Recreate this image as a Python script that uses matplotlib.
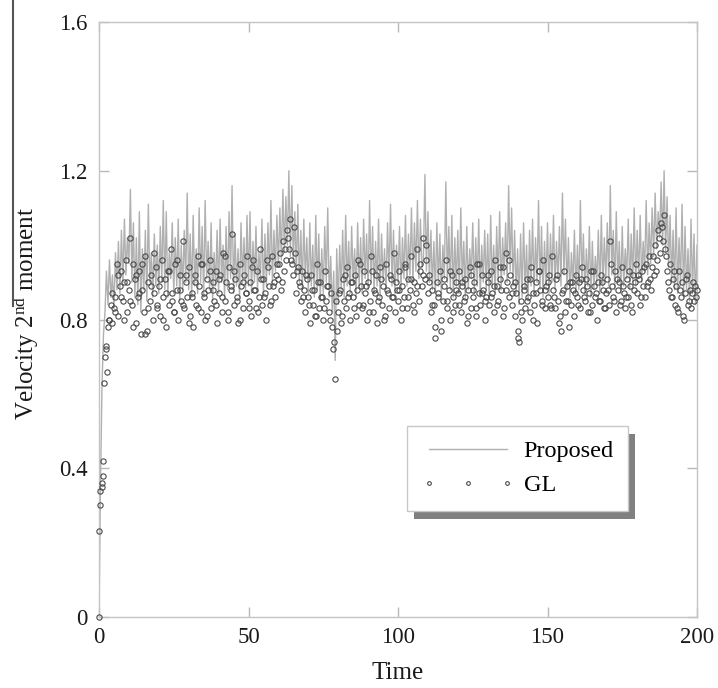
import numpy as np
import matplotlib
matplotlib.use("Agg")
import matplotlib.pyplot as plt
from matplotlib.patches import Rectangle
from matplotlib.lines import Line2D
from matplotlib.transforms import IdentityTransform

plt.rcParams['font.family'] = ['Liberation Serif', 'DejaVu Serif']
plt.rcParams['mathtext.fontset'] = 'custom'
plt.rcParams['mathtext.rm'] = 'Liberation Serif'
plt.rcParams['mathtext.it'] = 'Liberation Serif:italic'

# ---------------- data ----------------
# "Proposed" curve, sampled every 0.5 time units from 0 to 200
proposed = [
    0.00, 0.36, 0.62, 0.76, 0.82, 0.93, 0.84, 0.96, 0.86, 0.92, 0.83, 0.98, 0.88, 1.01, 0.87, 1.04, 0.90, 1.07, 0.92, 1.02,
    0.95, 1.15, 0.90, 1.06, 0.86, 1.02, 0.84, 1.09, 0.82, 0.99, 0.88, 1.04, 0.85, 1.11, 0.90, 0.98, 0.86, 1.03, 0.89, 1.00,
    0.87, 1.05, 0.90, 1.12, 0.88, 1.09, 0.86, 0.98, 0.91, 1.06, 0.87, 1.02, 0.89, 1.07, 0.85, 1.00, 0.88, 1.04, 0.90, 1.14,
    0.88, 1.03, 0.86, 1.08, 0.89, 0.99, 0.87, 1.10, 0.90, 1.05, 0.86, 1.12, 0.91, 1.01, 0.88, 1.06, 0.85, 0.98, 0.89, 1.04,
    0.87, 1.07, 0.90, 1.00, 0.86, 1.05, 0.88, 1.09, 0.91, 1.16, 0.87, 1.03, 0.89, 0.99, 0.86, 1.06, 0.90, 1.02, 0.88, 1.08,
    0.89, 1.09, 0.87, 1.01, 0.90, 1.05, 0.88, 0.98, 0.91, 1.07, 0.86, 1.03, 0.89, 1.06, 0.92, 1.12, 0.90, 1.04, 0.93, 1.08,
    0.94, 1.10, 0.96, 1.15, 0.98, 1.13, 1.00, 1.20, 0.97, 1.16, 0.95, 1.09, 0.92, 1.11, 0.90, 1.04, 0.88, 1.07, 0.91, 1.02,
    0.87, 1.06, 0.89, 1.00, 0.86, 1.08, 0.88, 1.03, 0.85, 0.99, 0.87, 1.05, 0.90, 1.10, 0.86, 0.97, 0.82, 0.93, 0.69, 0.99,
    0.84, 1.00, 0.88, 1.04, 0.86, 1.08, 0.89, 1.01, 0.87, 1.05, 0.90, 0.99, 0.86, 1.06, 0.89, 1.02, 0.87, 1.07, 0.91, 1.03,
    0.88, 1.12, 0.90, 1.05, 0.87, 1.01, 0.89, 1.07, 0.86, 1.03, 0.90, 0.99, 0.88, 1.06, 0.91, 1.11, 0.89, 1.04, 0.87, 1.00,
    0.90, 1.05, 0.88, 1.02, 0.91, 1.08, 0.89, 1.03, 0.92, 1.10, 0.90, 1.06, 0.93, 1.12, 0.91, 1.07, 0.94, 0.96, 1.19, 0.93,
    1.09, 0.90, 1.04, 0.88, 1.01, 0.87, 1.06, 0.89, 1.03, 0.86, 1.00, 0.91, 1.17, 0.90, 1.05, 0.88, 1.08, 0.86, 1.02, 0.89,
    1.04, 0.87, 1.10, 0.90, 1.01, 0.86, 1.05, 0.88, 0.99, 0.91, 1.06, 0.87, 1.02, 0.89, 1.07, 0.86, 1.00, 0.90, 1.04, 0.88,
    1.03, 0.86, 1.08, 0.89, 1.00, 0.87, 1.05, 0.90, 1.09, 0.88, 1.02, 0.92, 1.06, 0.90, 1.16, 0.93, 1.10, 0.89, 1.04, 0.87,
    0.99, 0.84, 1.03, 0.86, 1.06, 0.88, 1.00, 0.85, 1.04, 0.89, 1.07, 0.87, 1.02, 0.90, 1.12, 0.88, 1.05, 0.86, 1.01, 0.89,
    1.06, 0.87, 1.03, 0.90, 1.08, 0.88, 1.01, 0.91, 1.05, 0.89, 1.14, 0.92, 1.07, 0.88, 1.02, 0.86, 0.98, 0.89, 1.04, 0.87,
    1.00, 0.88, 1.12, 0.90, 1.03, 0.87, 0.99, 0.89, 1.05, 0.86, 1.01, 0.88, 0.97, 0.90, 1.04, 0.87, 1.08, 0.89, 1.02, 0.91,
    1.06, 0.89, 1.16, 0.92, 1.04, 0.88, 1.09, 0.90, 1.01, 0.87, 1.05, 0.89, 0.99, 0.91, 1.07, 0.88, 1.03, 0.90, 1.10, 0.89,
    1.04, 0.91, 1.08, 0.90, 1.01, 0.93, 1.12, 0.92, 1.06, 0.95, 1.10, 0.97, 1.14, 0.99, 1.09, 1.02, 1.17, 1.00, 1.20, 0.98,
    1.13, 0.94, 1.08, 0.90, 1.04, 0.88, 1.10, 0.87, 1.02, 0.89, 1.11, 0.86, 1.05, 0.88, 0.99, 0.85, 1.07, 0.87, 1.03, 0.84,
    1.00,
]

# "GL" markers, sampled every 0.5 time units from 0 to 200
gl = [
    0.00, 0.34, 0.36, 0.42, 0.70, 0.73, 0.78, 0.80, 0.84, 0.79, 0.83, 0.86, 0.95, 0.81, 0.89, 0.93, 0.85, 0.90, 0.96, 0.82,
    0.88, 1.02, 0.84, 0.95, 0.91, 0.79, 0.86, 0.93, 0.76, 0.88, 0.82, 0.97, 0.77, 0.90, 0.85, 0.92, 0.80, 0.87, 0.94, 0.83,
    0.89, 0.81, 0.96, 0.86, 0.91, 0.78, 0.93, 0.84, 0.99, 0.87, 0.82, 0.95, 0.88, 0.80, 0.92, 0.85, 1.01, 0.83, 0.90, 0.86,
    0.94, 0.81, 0.87, 0.78, 0.92, 0.84, 0.97, 0.89, 0.82, 0.95, 0.86, 0.80, 0.91, 0.88, 0.96, 0.83, 0.90, 0.85, 0.93, 0.79,
    0.87, 0.92, 0.82, 0.98, 0.85, 0.90, 0.80, 0.94, 0.88, 1.03, 0.84, 0.91, 0.86, 0.79, 0.95, 0.89, 0.83, 0.92, 0.87, 0.97,
    0.85, 0.90, 0.81, 0.96, 0.88, 0.83, 0.93, 0.86, 0.99, 0.84, 0.91, 0.87, 0.80, 0.94, 0.89, 0.85, 0.97, 0.90, 0.86, 0.95,
    0.91, 0.98, 0.88, 1.01, 0.93, 0.96, 1.04, 0.99, 1.07, 0.95, 0.92, 0.98, 0.87, 0.94, 0.90, 0.85, 0.93, 0.88, 0.82, 0.91,
    0.86, 0.79, 0.92, 0.84, 0.88, 0.81, 0.95, 0.83, 0.90, 0.86, 0.80, 0.93, 0.85, 0.89, 0.82, 0.87, 0.78, 0.74, 0.64, 0.77,
    0.82, 0.88, 0.79, 0.91, 0.85, 0.83, 0.94, 0.87, 0.80, 0.90, 0.86, 0.92, 0.81, 0.96, 0.84, 0.89, 0.83, 0.93, 0.87, 0.80,
    0.90, 0.85, 0.97, 0.82, 0.88, 0.92, 0.79, 0.86, 0.94, 0.84, 0.89, 0.81, 0.95, 0.87, 0.83, 0.91, 0.86, 0.98, 0.82, 0.88,
    0.85, 0.93, 0.80, 0.89, 0.86, 0.95, 0.83, 0.91, 0.88, 0.97, 0.84, 0.90, 0.87, 0.99, 0.85, 0.93, 0.89, 1.02, 0.91, 0.96,
    0.87, 0.92, 0.82, 0.88, 0.84, 0.75, 0.90, 0.86, 0.93, 0.77, 0.85, 0.89, 0.96, 0.83, 0.88, 0.80, 0.92, 0.86, 0.84, 0.90,
    0.87, 0.93, 0.82, 0.89, 0.85, 0.91, 0.79, 0.88, 0.94, 0.83, 0.86, 0.90, 0.81, 0.95, 0.87, 0.84, 0.92, 0.88, 0.80, 0.86,
    0.90, 0.84, 0.93, 0.87, 0.82, 0.96, 0.89, 0.85, 0.91, 0.88, 0.94, 0.83, 0.98, 0.90, 0.86, 0.92, 0.84, 0.89, 0.81, 0.87,
    0.75, 0.74, 0.85, 0.80, 0.88, 0.83, 0.91, 0.86, 0.82, 0.94, 0.87, 0.84, 0.90, 0.79, 0.93, 0.88, 0.85, 0.96, 0.83, 0.89,
    0.86, 0.92, 0.84, 0.97, 0.88, 0.83, 0.91, 0.85, 0.79, 0.77, 0.87, 0.93, 0.82, 0.89, 0.85, 0.90, 0.84, 0.88, 0.81, 0.92,
    0.86, 0.90, 0.83, 0.94, 0.88, 0.85, 0.91, 0.82, 0.87, 0.93, 0.84, 0.89, 0.86, 0.80, 0.90, 0.85, 0.92, 0.88, 0.83, 0.87,
    0.91, 0.84, 1.01, 0.89, 0.86, 0.93, 0.82, 0.88, 0.90, 0.85, 0.94, 0.87, 0.83, 0.91, 0.86, 0.89, 0.84, 0.92, 0.88, 0.95,
    0.87, 0.91, 0.84, 0.93, 0.89, 0.86, 0.95, 0.90, 0.97, 0.88, 0.94, 0.92, 1.00, 0.96, 1.04, 0.98, 1.06, 1.01, 1.08, 0.97,
    0.93, 0.88, 0.95, 0.86, 0.91, 0.84, 0.89, 0.82, 0.93, 0.86, 0.90, 0.80, 0.87, 0.92, 0.84, 0.88, 0.83, 0.90, 0.85, 0.86,
    0.88,
]
# additional GL points at t = 0.25, 1.25, ..., 199.25
gl_mid = [
    0.30, 0.38, 0.72, 0.80, 0.87, 0.82, 0.92, 0.86, 0.80, 0.90,
    0.85, 0.78, 0.92, 0.87, 0.95, 0.76, 0.83, 0.89, 0.98, 0.84,
    0.91, 0.80, 0.87, 0.93, 0.85, 0.82, 0.96, 0.88, 0.84, 0.92,
    0.79, 0.86, 0.90, 0.83, 0.95, 0.87, 0.81, 0.93, 0.88, 0.84,
    0.91, 0.86, 0.97, 0.82, 0.89, 0.93, 0.85, 0.80, 0.90, 0.87,
    0.83, 0.94, 0.88, 0.82, 0.91, 0.86, 0.96, 0.84, 0.89, 0.92,
    0.95, 0.90, 0.99, 1.02, 0.96, 1.05, 0.93, 0.89, 0.86, 0.92,
    0.84, 0.88, 0.81, 0.90, 0.86, 0.83, 0.89, 0.80, 0.72, 0.85,
    0.87, 0.81, 0.92, 0.86, 0.90, 0.83, 0.88, 0.95, 0.84, 0.89,
    0.82, 0.93, 0.87, 0.85, 0.91, 0.80, 0.88, 0.92, 0.86, 0.90,
    0.88, 0.83, 0.94, 0.86, 0.91, 0.82, 0.89, 0.95, 0.92, 1.00,
    0.90, 0.84, 0.78, 0.87, 0.80, 0.91, 0.85, 0.93, 0.82, 0.88,
    0.84, 0.90, 0.86, 0.81, 0.92, 0.88, 0.83, 0.95, 0.87, 0.85,
    0.92, 0.86, 0.89, 0.84, 0.94, 0.81, 0.88, 0.96, 0.87, 0.90,
    0.77, 0.82, 0.89, 0.85, 0.91, 0.80, 0.87, 0.93, 0.84, 0.88,
    0.90, 0.83, 0.86, 0.92, 0.81, 0.88, 0.85, 0.78, 0.90, 0.87,
    0.84, 0.91, 0.86, 0.89, 0.82, 0.93, 0.87, 0.85, 0.90, 0.83,
    0.88, 0.95, 0.85, 0.91, 0.84, 0.89, 0.86, 0.93, 0.82, 0.90,
    0.92, 0.86, 0.94, 0.89, 0.91, 0.97, 0.93, 1.02, 1.05, 0.99,
    0.90, 0.86, 0.93, 0.83, 0.88, 0.81, 0.91, 0.85, 0.87, 0.89,
]
# a few extra GL points in the initial transient
gl_early_t = [0.15, 0.9, 1.8, 2.6]
gl_early_v = [0.23, 0.35, 0.63, 0.66]

xticks = [0, 50, 100, 150, 200]
yticks = [0, 0.4, 0.8, 1.2, 1.6]
yticklabels = ['0', '0.4', '0.8', '1.2', '1.6']

t_line = np.linspace(0, 200, len(proposed))
t_gl = np.linspace(0, 200, len(gl))
t_mid = np.linspace(0.25, 199.25, len(gl_mid))
t_gl_all = np.concatenate([t_gl, t_mid, gl_early_t])
v_gl_all = np.concatenate([gl, gl_mid, gl_early_v])
order = np.argsort(t_gl_all)
t_gl_all = t_gl_all[order]
v_gl_all = v_gl_all[order]

# ---------------- figure ----------------
W, H = 718, 688
fig = plt.figure(figsize=(W / 100, H / 100), dpi=100)
fig.patch.set_facecolor('white')
ax = fig.add_axes([99 / W, 1 - 617 / H, 598 / W, 595 / H])
ax.patch.set_visible(False)

ax.plot(t_line, proposed, color='#b0b0b0', lw=1.0, label='Proposed', zorder=2)
ax.plot(t_gl_all, v_gl_all, ls='none', marker='o', ms=3.8, mfc='none',
        mec='#4a4a4a', mew=0.8, label='GL', zorder=3, clip_on=False)

ax.set_xlim(0, 200)
ax.set_ylim(0, 1.6)
ax.set_xticks(xticks)
ax.set_yticks(yticks)
ax.set_yticklabels(yticklabels)

for s in ax.spines.values():
    s.set_color('#c4c4c4')
    s.set_linewidth(1.0)

ax.tick_params(direction='in', length=7, width=1, color='#b8b8b8',
               top=True, right=True, labelsize=16.5, labelcolor='#1a1a1a')
ax.tick_params(axis='x', pad=7)
ax.tick_params(axis='y', pad=8)

ax.set_xlabel('Time', fontsize=18, color='#1a1a1a', labelpad=10)
ax.set_ylabel('Velocity 2$^{\\mathrm{nd}}$ moment', fontsize=18, color='#1a1a1a')
ax.yaxis.set_label_coords(-0.097, 0.51)

leg = ax.legend(loc='upper left', bbox_to_anchor=(0.515, 0.3215), borderaxespad=0,
                fontsize=17.5, frameon=True, fancybox=False, framealpha=1,
                edgecolor='#c8c8c8', handlelength=3.8, handletextpad=0.4,
                borderpad=0.6, labelspacing=0.5, numpoints=3, markerscale=0.7)
leg.get_frame().set_linewidth(1.0)
leg.set_zorder(6)

# vertical stray line at left edge
fig.add_artist(Line2D([13 / W, 13 / W], [1.0, 1 - 306 / H], transform=fig.transFigure,
                      color='#555555', lw=1.5))

# legend drop shadow
fig.canvas.draw()
bb = leg.get_window_extent()
shadow = Rectangle((bb.x0 + 7, bb.y0 - 8), bb.width, bb.height,
                   transform=IdentityTransform(), facecolor='#808080',
                   edgecolor='none', zorder=5.5)
ax.add_artist(shadow)

fig.savefig('out.png', dpi=100, facecolor='white')
